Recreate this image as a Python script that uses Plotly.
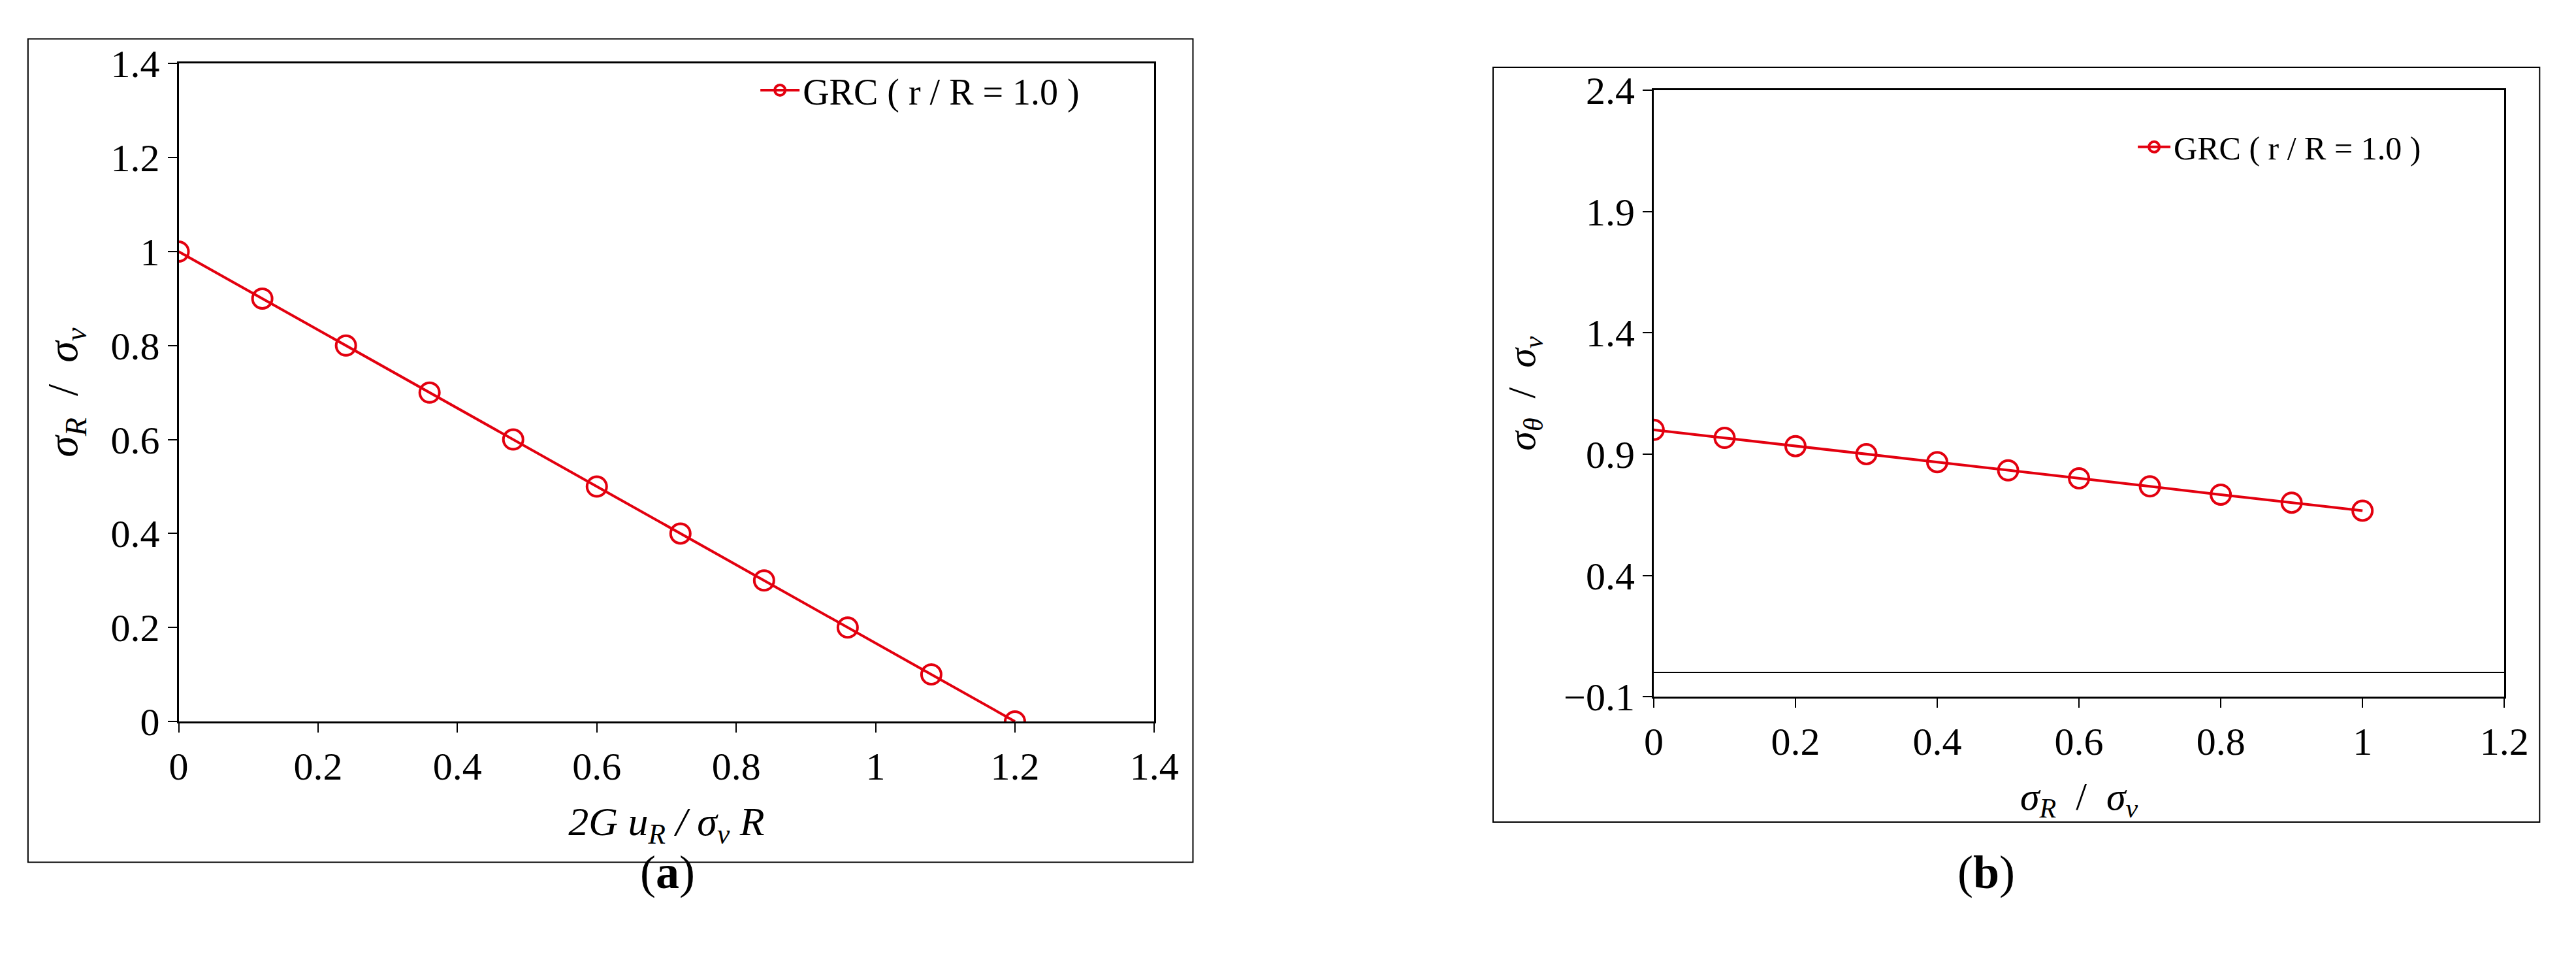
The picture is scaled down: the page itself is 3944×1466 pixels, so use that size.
import plotly.graph_objects as go

# panel (a)
disp_a = [0, 0.12, 0.24, 0.36, 0.48, 0.6, 0.72, 0.84, 0.96, 1.08, 1.2]
sig_a = [1.0, 0.9, 0.8, 0.7, 0.6, 0.5, 0.4, 0.3, 0.2, 0.1, 0.0]
# panel (b)
sigr_b = [0, 0.1, 0.2, 0.3, 0.4, 0.5, 0.6, 0.7, 0.8, 0.9, 1.0]
sigt_b = [1.0, 0.967, 0.933, 0.9, 0.867, 0.833, 0.8, 0.767, 0.733, 0.7, 0.667]

red = "#e3000f"
font = "Liberation Serif"
name = "GRC ( r / R = 1.0 )"

fig = go.Figure()
for x, y, xa, ya, leg in [(disp_a, sig_a, "x", "y", "legend"), (sigr_b, sigt_b, "x2", "y2", "legend2")]:
    fig.add_trace(go.Scatter(x=x, y=y, xaxis=xa, yaxis=ya, name=name, legend=leg,
                             mode="lines+markers", showlegend=True,
                             line=dict(color=red, width=4),
                             marker=dict(symbol="circle-open", size=30, color=red,
                                         line=dict(width=4, color=red))))

ax = dict(showline=True, linecolor="black", linewidth=3, mirror=True, ticks="outside",
          ticklen=14, tickwidth=2, tickcolor="black", showgrid=False, zeroline=False,
          tickfont=dict(family=font, size=60, color="black"))

fig.update_layout(
    width=3944, height=1466, margin=dict(l=0, r=0, t=0, b=0),
    paper_bgcolor="white", plot_bgcolor="white", font=dict(family=font, color="black"),
    xaxis=dict(ax, domain=[0.0644, 0.4483], range=[0, 1.4], dtick=0.2, anchor="y",
               title=dict(text="<i>2G u<sub>R</sub> / σ<sub>v</sub> R</i>", font=dict(size=62), standoff=30)),
    yaxis=dict(ax, domain=[0.240, 0.959], range=[0, 1.4], dtick=0.2, anchor="x",
               title=dict(text="<i>σ<sub>R</sub></i>  /  <i>σ<sub>v</sub></i>", font=dict(size=66), standoff=30)),
    xaxis2=dict(ax, domain=[0.6448, 0.9795], range=[0, 1.2], dtick=0.2, anchor="y2",
                title=dict(text="<i>σ<sub>R</sub></i>  /  <i>σ<sub>v</sub></i>", font=dict(size=60), standoff=30)),
    yaxis2=dict(ax, domain=[0.267, 0.93], range=[-0.1, 2.4], tick0=-0.1, dtick=0.5, anchor="x2",
                zeroline=True, zerolinecolor="black", zerolinewidth=2,
                title=dict(text="<i>σ<sub>θ</sub></i>  /  <i>σ<sub>v</sub></i>", font=dict(size=60), standoff=25)),
    legend=dict(x=0.292, y=0.93, xanchor="left", yanchor="middle", bgcolor="rgba(0,0,0,0)",
                itemwidth=60, font=dict(family=font, size=56)),
    legend2=dict(x=0.834, y=0.868, xanchor="left", yanchor="middle", bgcolor="rgba(0,0,0,0)",
                 itemwidth=50, font=dict(family=font, size=50)),
    shapes=[
        dict(type="rect", xref="paper", yref="paper", x0=0.0051, x1=0.4635, y0=0.086, y1=0.986,
             line=dict(color="black", width=2)),
        dict(type="rect", xref="paper", yref="paper", x0=0.5816, x1=0.9934, y0=0.130, y1=0.955,
             line=dict(color="black", width=2)),
    ],
    annotations=[
        dict(text="(<b>a</b>)", xref="paper", yref="paper", x=0.2455, y=0.045,
             showarrow=False, font=dict(family=font, size=72)),
        dict(text="(<b>b</b>)", xref="paper", yref="paper", x=0.7875, y=0.045,
             showarrow=False, font=dict(family=font, size=72)),
    ],
)

fig.write_html("out.html")
